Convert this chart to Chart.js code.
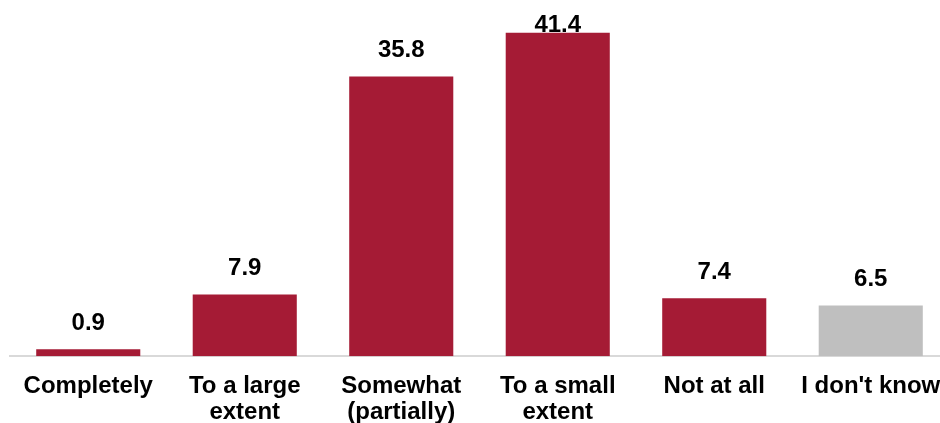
<!DOCTYPE html>
<html>
<head>
<meta charset="utf-8">
<script src="https://cdn.jsdelivr.net/npm/chart.js@4"></script>
<style>
  html, body { margin: 0; padding: 0; background: #fff; }
  #clip { width: 940px; height: 423px; overflow: hidden; position: relative; }
  #wrap { width: 960px; height: 434px; position: absolute; left: 0; top: 0; }
</style>
</head>
<body>
<div id="clip"><div id="wrap"><canvas id="extentChart"></canvas></div></div>
<script>
// categories and values
const categories = [
    ['Completely'],
    ['To a large', 'extent'],
    ['Somewhat', '(partially)'],
    ['To a small', 'extent'],
    ['Not at all'],
    ["I don't know"]
];
const values = [0.9, 7.9, 35.8, 41.4, 7.4, 6.5];
const barColors = ['#a51b35', '#a51b35', '#a51b35', '#a51b35', '#a51b35', '#bfbfbf'];

const FONT = '"Liberation Sans", Arial, sans-serif';

// value labels above each bar
const valueLabels = {
    id: 'valueLabels',
    afterDatasetsDraw(chart) {
        const ctx = chart.ctx;
        const meta = chart.getDatasetMeta(0);
        ctx.save();
        ctx.font = 'bold 24px ' + FONT;
        ctx.fillStyle = '#000';
        ctx.textAlign = 'center';
        ctx.textBaseline = 'bottom';
        meta.data.forEach((bar, i) => {
            const y = Math.max(bar.y - 14, 37);
            ctx.fillText(values[i].toFixed(1), bar.x, y);
        });
        ctx.restore();
    }
};

document.addEventListener('DOMContentLoaded', () => {
    const ctx = document.getElementById('extentChart');
    new Chart(ctx, {
        type: 'bar',
        data: {
            labels: categories,
            datasets: [{
                data: values,
                backgroundColor: barColors,
                borderWidth: 0,
                categoryPercentage: 1,
                barPercentage: 0.665
            }]
        },
        options: {
            responsive: true,
            maintainAspectRatio: false,
            animation: false,
            layout: { padding: { left: 10, right: 11, top: 0, bottom: 0 } },
            scales: {
                y: { display: false, min: 0, max: 45.6 },
                x: {
                    grid: { display: false },
                    border: { color: '#d9d9d9', width: 2 },
                    ticks: {
                        color: '#000',
                        padding: 9,
                        maxRotation: 0,
                        autoSkip: false,
                        font: { family: FONT, size: 24, weight: 'bold', lineHeight: 1.08 }
                    }
                }
            },
            plugins: {
                legend: { display: false },
                tooltip: { enabled: false }
            }
        },
        plugins: [valueLabels]
    });
});
</script>
</body>
</html>
